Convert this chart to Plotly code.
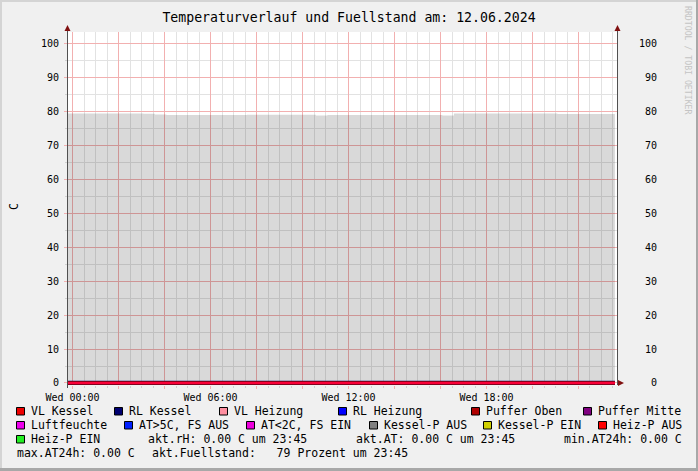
import plotly.graph_objects as go
import pandas as pd

# ---------------- data ----------------
times = pd.date_range("2024-06-11 23:35", periods=49, freq="30min")

fuellstand = [79.3, 79.3, 79.3, 79.3, 79.3, 79.3, 79.3, 79.2, 79.0,
              78.8, 78.8, 78.8, 78.8, 78.8, 78.8, 78.8,
              78.9, 78.9, 78.9, 78.9, 78.9, 78.9, 78.7,
              78.8, 78.8, 78.8, 78.8, 78.8, 78.8, 78.8, 78.8, 78.8, 78.8, 78.7,
              79.3, 79.3, 79.3, 79.3, 79.3, 79.3, 79.3, 79.3, 79.3,
              79.1, 79.1, 79.1, 79.1, 79.1, 79.1]

temp_zero = [0.0, 0.0, 0.0, 0.0, 0.0, 0.0, 0.0, 0.0, 0.0, 0.0,
             0.0, 0.0, 0.0, 0.0, 0.0, 0.0, 0.0, 0.0, 0.0, 0.0,
             0.0, 0.0, 0.0, 0.0, 0.0, 0.0, 0.0, 0.0, 0.0, 0.0,
             0.0, 0.0, 0.0, 0.0, 0.0, 0.0, 0.0, 0.0, 0.0, 0.0,
             0.0, 0.0, 0.0, 0.0, 0.0, 0.0, 0.0, 0.0, 0.0]

series_names = ["VL Kessel", "RL Kessel", "VL Heizung", "RL Heizung", "Puffer Oben",
                "Puffer Mitte", "Luftfeuchte", "AT>5C, FS AUS", "AT<2C, FS EIN",
                "Kessel-P AUS", "Kessel-P EIN", "Heiz-P AUS", "Heiz-P EIN"]
series_colors = ["#ee0000", "#000070", "#ff8fa0", "#0000ff", "#b00000",
                 "#800080", "#ee00ee", "#0020ff", "#ee00dd",
                 "#808080", "#d0d000", "#ff0000", "#22ee22"]

x_tickvals = pd.date_range("2024-06-12 00:00", periods=12, freq="2h")
x_ticktext = ["Wed 00:00", "", "", "Wed 06:00", "", "", "Wed 12:00", "", "",
              "Wed 18:00", "", ""]
y_tickvals = [0, 10, 20, 30, 40, 50, 60, 70, 80, 90, 100]

title_text = "Temperaturverlauf und Fuellstand am: 12.06.2024"

# ---------------- layout helpers ----------------
W, H = 698, 471
L, R, T, B = 68, 81, 32, 86
PW = W - L - R
PH = H - T - B
FONT = "DejaVu Sans Mono"
NB = "\u00a0"


def px(x):
    return (x - L) / PW


def py(y):
    return (T + PH - y) / PH


fig = go.Figure()

# fill level area
fig.add_trace(go.Scatter(
    x=times, y=fuellstand, mode="lines", line=dict(width=0, shape="hv"),
    fill="tozeroy", fillcolor="rgba(0,0,0,0.15)", xaxis="x", yaxis="y",
    hoverinfo="skip"))

# temperature / state series (all at zero) on overlay axis
order = [0, 2, 3, 5, 7, 9, 10, 12, 6, 1, 4, 11, 8]
widths = {1: 4.4, 4: 3.6, 11: 2.2, 8: 2.2}
for i in order:
    fig.add_trace(go.Scatter(
        x=times, y=temp_zero, mode="lines",
        line=dict(color=series_colors[i], width=widths.get(i, 2), shape="hv"),
        opacity=0.25 if i == 8 else 1.0,
        xaxis="x", yaxis="y2", hoverinfo="skip", name=series_names[i]))

yrange = [-0.59, 103.24]
major_grid = "#f2b0b0"
minor_grid = "#e2e2e2"

fig.update_layout(
    width=W, height=H,
    margin=dict(l=L, r=R, t=T, b=B, pad=0),
    paper_bgcolor="#f0f0f0", plot_bgcolor="#ffffff",
    showlegend=False, hovermode=False,
    font=dict(family=FONT, size=10, color="#000000"),
    title=dict(text=title_text, x=0.5, xref="container", xanchor="center",
               y=1 - 17 / H, yref="container", yanchor="middle",
               font=dict(family=FONT, size=13.2, color="#000000")),
    xaxis=dict(
        type="date",
        range=["2024-06-11 23:48:15", "2024-06-12 23:40:27"],
        tickmode="array", tickvals=x_tickvals, ticktext=x_ticktext,
        showgrid=True, gridcolor=major_grid, gridwidth=1,
        ticks="outside", ticklen=3, tickcolor=major_grid,
        minor=dict(dtick=1800000, tick0="2024-06-12 00:00", showgrid=True,
                   gridcolor=minor_grid, ticks="outside", ticklen=2,
                   tickcolor="#d0d0d0"),
        showline=False, zeroline=False,
        tickfont=dict(family=FONT, size=10, color="#000000"),
        fixedrange=True,
    ),
    yaxis=dict(
        range=yrange, tickmode="array", tickvals=y_tickvals,
        showgrid=True, gridcolor=major_grid, gridwidth=1,
        ticks="outside", ticklen=3, tickcolor=major_grid,
        minor=dict(dtick=5, tick0=0, showgrid=True, gridcolor=minor_grid,
                   ticks="outside", ticklen=2, tickcolor="#d0d0d0"),
        showline=True, linecolor="#505050", linewidth=1, mirror=False,
        zeroline=False, ticklabelstandoff=3,
        tickfont=dict(family=FONT, size=10, color="#000000"),
        fixedrange=True,
    ),
    yaxis2=dict(
        range=yrange, overlaying="y", side="right", tickmode="array",
        tickvals=y_tickvals,
        ticktext=[(NB * (3 - len(str(v)))) + str(v) for v in y_tickvals],
        showgrid=False, ticks="", showline=True, linecolor="#505050",
        linewidth=1, zeroline=False, ticklabelstandoff=19,
        tickfont=dict(family=FONT, size=10, color="#000000"),
        fixedrange=True,
    ),
)

shapes = []
# frame
shapes.append(dict(type="line", xref="paper", yref="paper", x0=px(0), x1=px(W),
                   y0=py(1), y1=py(1), line=dict(color="#d4d4d4", width=2)))
shapes.append(dict(type="line", xref="paper", yref="paper", x0=px(1), x1=px(1),
                   y0=py(0), y1=py(H), line=dict(color="#d4d4d4", width=2)))
shapes.append(dict(type="line", xref="paper", yref="paper", x0=px(0), x1=px(W),
                   y0=py(H - 1.5), y1=py(H - 1.5), line=dict(color="#a8a8a8", width=3)))
shapes.append(dict(type="line", xref="paper", yref="paper", x0=px(W - 1), x1=px(W - 1),
                   y0=py(0), y1=py(H), line=dict(color="#a8a8a8", width=2)))

# axis extensions and arrows
arrow_col = "#801010"
for ax_x in (67.5, 617.5):
    shapes.append(dict(type="line", xref="paper", yref="paper", x0=px(ax_x), x1=px(ax_x),
                       y0=py(T), y1=py(28), line=dict(color="#505050", width=1)))
    shapes.append(dict(type="path", xref="paper", yref="paper",
                       path=f"M {px(ax_x - 3)} {py(31)} L {px(ax_x + 3)} {py(31)} L {px(ax_x)} {py(25)} Z",
                       fillcolor=arrow_col, line=dict(width=0)))
shapes.append(dict(type="line", xref="paper", yref="paper", x0=px(67.5), x1=px(67.5),
                   y0=py(T + PH), y1=py(388), line=dict(color="#505050", width=1)))
shapes.append(dict(type="path", xref="paper", yref="paper",
                   path=f"M {px(618)} {py(380)} L {px(618)} {py(386)} L {px(624)} {py(383)} Z",
                   fillcolor=arrow_col, line=dict(width=0)))

annotations = []


def text_at(x, y, s, size=11.5, color="#000000", angle=0, anchor="left"):
    annotations.append(dict(xref="paper", yref="paper", x=px(x), y=py(y),
                            xanchor=anchor, yanchor="middle", text=s.replace(" ", NB),
                            showarrow=False, textangle=angle, borderpad=0,
                            font=dict(family=FONT, size=size, color=color)))


# legend squares + labels
legend_pos = [
    (0, 30, 411), (1, 128, 411), (2, 233, 411), (3, 352, 411), (4, 485, 411), (5, 597, 411),
    (6, 30, 425), (7, 138, 425), (8, 260, 425), (9, 383, 425), (10, 497, 425), (11, 612, 425),
    (12, 30, 439),
]
for idx, tx, ty in legend_pos:
    sx = tx - 13.5
    shapes.append(dict(type="rect", xref="paper", yref="paper",
                       x0=px(sx), x1=px(sx + 8), y0=py(ty - 3.5), y1=py(ty + 4),
                       fillcolor=series_colors[idx], line=dict(color="#000000", width=1)))
    text_at(tx - 0.5, ty, series_names[idx])

cur = temp_zero[-1]
text_at(147.2, 439, f"akt.rH: {cur:.2f} C um 23:45")
text_at(354.8, 439, f"akt.AT: {cur:.2f} C um 23:45")
text_at(563.2, 439, f"min.AT24h: {min(temp_zero):.2f} C")
text_at(15.5, 453, f"max.AT24h: {max(temp_zero):.2f} C")
text_at(151.2, 453, f"akt.Fuellstand:   {fuellstand[-1]:.0f} Prozent um 23:45")

# y title and watermark
text_at(14, 207, "C", size=11.5, angle=-90, anchor="center")
text_at(688, 60, "RRDTOOL / TOBI OETIKER", size=8.2, color="#c4c4c4", angle=90, anchor="center")

fig.update_layout(shapes=shapes, annotations=annotations)

fig.write_html("out.html", config={"displayModeBar": False},
               post_script="document.body.style.margin='0';document.body.style.padding='0';")
